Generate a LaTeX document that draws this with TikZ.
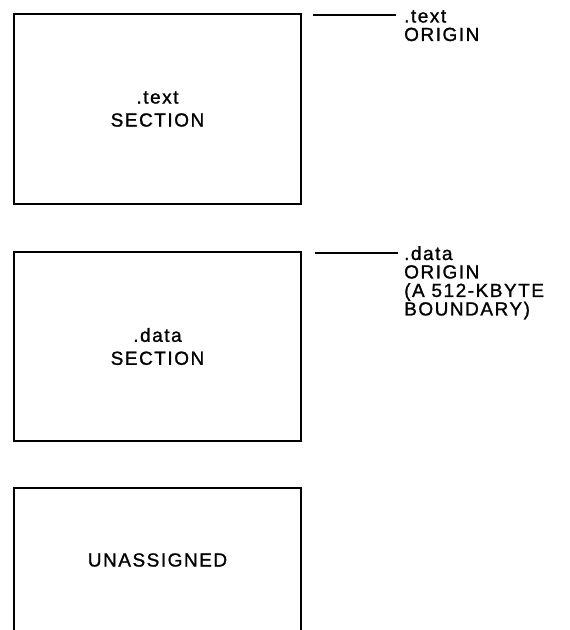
\documentclass[tikz,border=0pt]{standalone}
\usepackage{fontspec}
\setmainfont{Liberation Sans}[LetterSpace=8,FakeBold=1.2]
\begin{document}
\begin{tikzpicture}[x=1pt,y=-1pt,
  secbox/.style={draw, line width=2.6pt, minimum width=287pt, inner sep=0pt, align=center,
    font=\fontsize{19}{23}\selectfont},
  lead/.style={line width=1.3pt},
  side/.style={anchor=north west, inner sep=0pt, align=left, font=\fontsize{19}{18.5}\selectfont},
  txt/.style={inner sep=0pt, font=\fontsize{19}{23}\selectfont}]
\useasboundingbox (0,0) rectangle (570,630);
\clip (0,0) rectangle (570,630);
\node[secbox, minimum height=190pt] (b1) at (157.5,109) {.text\\SECTION};
\node[secbox, minimum height=189pt] (b2) at (157.5,346.5) {.data\\SECTION};
\node[secbox, minimum height=192pt] (b3) at (157.5,584) {};
\node[txt] (u) at (157.5,560) {UNASSIGNED};
\coordinate (ta) at (313,15);
\coordinate (tb) at (396,15);
\draw[lead] (ta) -- (tb);
\node[side] (tl) at (404,10) {.text\\ORIGIN};
\coordinate (da) at (315,253);
\coordinate (db) at (398,253);
\draw[lead] (da) -- (db);
\node[side] (dl) at (404,246) {.data\\ORIGIN\\(A 512-KBYTE\\BOUNDARY)};
\end{tikzpicture}
\end{document}
